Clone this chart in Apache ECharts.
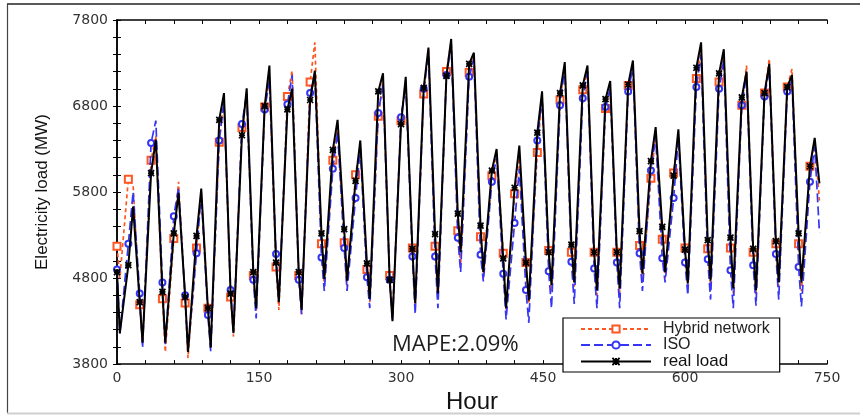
<!DOCTYPE html>
<html>
<head>
<meta charset="utf-8">
<script src="https://cdn.jsdelivr.net/npm/echarts@6/dist/echarts.min.js"></script>
<style>html,body{margin:0;padding:0;background:#fff;}#c{width:860px;height:419px;}</style>
</head>
<body>
<div id="c"></div>
<script>
// Hour offsets within each day at which values were read: midnight, trough, noon, peak
const dayHours = [0, 3, 12, 17];
const lastHour = 742;

// real load per day: [h0, trough, h12, peak]
const realLoad = [
  [4870,4160,4950,5630],[4520,4050,6020,6410],[4640,4050,5320,5790],[4580,3940,5290,5840],
  [4450,3990,6640,6950],[4620,4160,6460,7005],[4870,4450,6800,7270],[4980,4520,6760,7000],
  [4870,4430,6870,7210],[5320,4790,6290,6640],[5370,4770,5930,6400],[4970,4560,6970,7180],
  [4780,4300,6590,7140],[5140,4510,7010,7480],[5310,4620,7150,7580],[5550,5100,7290,7420],
  [5410,4870,6050,6300],[5030,4450,5850,6340],[4980,4540,6490,6970],[5100,4720,6950,7310],
  [5190,4750,7040,7270],[5100,4660,6880,7090],[5100,4680,7050,7330],[5345,4850,6160,6555],
  [5395,4870,5990,6530],[5130,4735,7245,7540],[5240,4770,7180,7460],[5270,4680,6900,7200],
  [5140,4660,6950,7290],[5230,4750,7020,7160],[5320,4750,6100,6430]
];
const realEnd = 5900;

// Hybrid network forecast per day
const hybrid = [
  [5170,4800,5950,5880],[4490,4050,6170,6450],[4560,3940,5260,5920],[4510,3870,5150,5800],
  [4450,4000,6380,6900],[4580,4120,6550,6920],[4830,4420,6790,7100],[4930,4430,6910,7210],
  [4830,4380,7080,7540],[5200,4700,6170,6560],[5210,4700,6000,6350],[4900,4520,6680,7100],
  [4830,4350,6630,7100],[5150,4450,6940,7450],[5170,4550,7200,7550],[5350,4950,7190,7380],
  [5280,4800,5990,6250],[5090,4420,5780,6200],[4980,4500,6260,6900],[5120,4650,6870,7250],
  [5100,4700,6990,7200],[5100,4600,6770,7000],[5100,4620,7040,7280],[5180,4750,5960,6450],
  [5250,4800,6020,6450],[5150,4700,7120,7450],[5140,4700,7080,7400],[5150,4620,6810,7270],
  [5100,4600,6950,7350],[5200,4700,7020,7230],[5200,4650,6100,6400]
];
const hybridEnd = 5700;

// ISO forecast per day
const iso = [
  [4900,4150,5200,5800],[4620,3990,6370,6630],[4750,4030,5520,5850],[4600,3950,5090,5780],
  [4370,3950,6400,6850],[4660,4180,6590,6950],[4780,4330,6760,7100],[5080,4520,6820,7160],
  [4780,4380,6950,7150],[5040,4650,6070,6500],[5150,4650,5730,6300],[4810,4450,6720,7050],
  [4780,4300,6670,7050],[5050,4380,7000,7400],[5050,4450,7160,7500],[5270,4870,7140,7350],
  [5070,4760,5920,6200],[4850,4320,5440,6070],[4660,4280,6400,6900],[4880,4450,6810,7250],
  [4990,4500,6890,7200],[4910,4450,6790,7000],[4980,4450,6970,7250],[5090,4650,6050,6450],
  [5030,4750,5730,6430],[4980,4600,7020,7400],[5020,4550,7000,7350],[4890,4450,6810,7150],
  [4950,4480,6910,7230],[5080,4550,6970,7100],[4930,4470,5920,6330]
];
const isoEnd = 5330;

const xTicks = [0,150,300,450,600,750];
const yTicks = [3800,4800,5800,6800,7800];

function build(days, endVal){
  const pts = [];
  days.forEach((d,i)=>d.forEach((v,j)=>pts.push([24*i+dayHours[j], v])));
  pts.push([lastHour, endVal]);
  return pts;
}
const markSize = s => (val => (val[0] % 12 === 0 && val[0] !== lastHour) ? s : 0);

const chart = echarts.init(document.getElementById('c'), null, {renderer:'canvas'});
const lblFont = 'DejaVu Sans';
function axisBase(){
  return {
    type:'value',
    axisLine:{show:true, lineStyle:{color:'#000', width:1.5}},
    axisTick:{show:true, inside:true, length:4, lineStyle:{color:'#000', width:1}},
    splitLine:{show:false}
  };
}
const starPath = 'path://M0,0L10,10M10,0L0,10M0,5L10,5M5,0L5,10';

chart.setOption({
  animation:false,
  backgroundColor:'#fff',
  grid:{left:117, right:33, top:20, bottom:50, show:false},
  legend:{
    orient:'vertical', left:563, top:318,
    backgroundColor:'#fff', borderColor:'#000', borderWidth:1.2,
    padding:[3, 10, 2, 17], itemGap:0, itemWidth:70, itemHeight:9,
    textStyle:{fontFamily:'Liberation Sans', fontSize:16, lineHeight:15, color:'#222', padding:[0,0,0,7]},
    data:[
      {name:'Hybrid network'},
      {name:'ISO'},
      {name:'real load', textStyle:{fontSize:17, color:'#111'}}
    ]
  },
  xAxis:[
    Object.assign(axisBase(), {
      min:0, max:750, interval:30, position:'bottom',
      axisLabel:{show:true, margin:7, fontFamily:lblFont, fontSize:14, color:'#333',
        formatter:v => xTicks.includes(v) ? String(v) : ''},
      name:'Hour', nameLocation:'middle', nameGap:19,
      nameTextStyle:{fontFamily:'Liberation Sans', fontSize:24, color:'#111'}
    }),
    Object.assign(axisBase(), {
      min:0, max:750, interval:30, position:'top', axisLabel:{show:false}
    })
  ],
  yAxis:[
    Object.assign(axisBase(), {
      min:3800, max:7800, interval:200, position:'left',
      axisLabel:{show:true, margin:9, fontFamily:lblFont, fontSize:14, color:'#333',
        formatter:v => yTicks.includes(v) ? String(v) : ''},
      name:'Electricity load (MW)', nameLocation:'middle', nameGap:66,
      nameTextStyle:{fontFamily:'Liberation Sans', fontSize:17, color:'#111'}
    }),
    Object.assign(axisBase(), {
      min:3800, max:7800, interval:200, position:'right', axisLabel:{show:false}
    })
  ],
  series:[
    {
      name:'Hybrid network', type:'line', data:build(hybrid, hybridEnd),
      xAxisIndex:0, yAxisIndex:0,
      symbol:'emptyRect', symbolSize:markSize(7), showAllSymbol:true,
      lineStyle:{color:'#FF5722', width:1.7, type:[4,3]},
      itemStyle:{color:'#FF5722', borderWidth:1.2}, z:2
    },
    {
      name:'ISO', type:'line', data:build(iso, isoEnd),
      xAxisIndex:0, yAxisIndex:0,
      symbol:'emptyCircle', symbolSize:markSize(6), showAllSymbol:true,
      lineStyle:{color:'#3535F5', width:1.7, type:[9,4]},
      itemStyle:{color:'#3535F5', borderWidth:1.2}, z:3
    },
    {
      name:'real load', type:'line', data:build(realLoad, realEnd),
      xAxisIndex:0, yAxisIndex:0,
      symbol:starPath, symbolSize:markSize(6), showAllSymbol:true,
      lineStyle:{color:'#000', width:2},
      itemStyle:{color:'#000', borderColor:'#000', borderWidth:1.7}, z:4
    }
  ],
  graphic:[
    {type:'line', shape:{x1:7, y1:4, x2:860, y2:4}, style:{stroke:'#222', lineWidth:1.5}, silent:true},
    {type:'line', shape:{x1:7.5, y1:4, x2:7.5, y2:413}, style:{stroke:'#444', lineWidth:1.2}, silent:true},
    {type:'line', shape:{x1:7, y1:413.5, x2:860, y2:413.5}, style:{stroke:'#cfcfcf', lineWidth:2}, silent:true},
    {type:'text', left:392, top:334, style:{text:'MAPE:2.09%', fontFamily:'Open Sans', fontSize:22, fill:'#1e1e1e'}, silent:true}
  ]
});
</script>
</body>
</html>
